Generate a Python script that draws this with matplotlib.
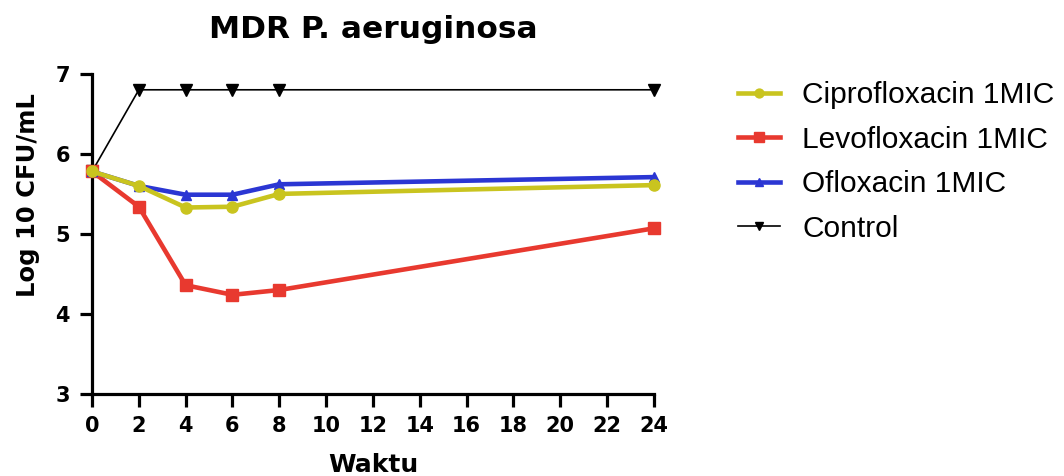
import matplotlib.pyplot as plt

# time points (hours)
waktu = [0, 2, 4, 6, 8, 24]

# log10 CFU/mL values
cipro = [5.78, 5.60, 5.33, 5.34, 5.50, 5.61]
levo = [5.78, 5.34, 4.36, 4.24, 4.30, 5.07]
oflox = [5.78, 5.60, 5.49, 5.49, 5.62, 5.71]
control = [5.78, 6.80, 6.80, 6.80, 6.80, 6.80]

labels = ['Ciprofloxacin 1MIC', 'Levofloxacin 1MIC', 'Ofloxacin 1MIC', 'Control']
xticks = list(range(0, 25, 2))
yticks = [3, 4, 5, 6, 7]

bold_font = ['DejaVu Sans']
plt.rcParams['font.family'] = ['Liberation Sans', 'DejaVu Sans']

fig = plt.figure(figsize=(10.64, 4.76), dpi=100)
ax = fig.add_axes([0.0865, 0.172, 0.528, 0.673])

ax.plot(waktu, cipro, '-o', color='#c9c41f', lw=3.3, ms=8, label=labels[0], clip_on=False, zorder=4)
ax.plot(waktu, levo, '-s', color='#e8392f', lw=3.3, ms=8.5, label=labels[1], clip_on=False, zorder=3)
ax.plot(waktu, oflox, '-^', color='#2b36d3', lw=3.3, ms=7.5, label=labels[2], clip_on=False, zorder=3)
ax.plot(waktu, control, '-v', color='black', lw=1.2, ms=8, label=labels[3], clip_on=False, zorder=2)

ax.set_xlim(0, 24)
ax.set_ylim(3, 7)
ax.set_xticks(xticks)
ax.set_yticks(yticks)
for s in ['top', 'right']:
    ax.spines[s].set_visible(False)
for s in ['left', 'bottom']:
    ax.spines[s].set_linewidth(2.3)
ax.tick_params(width=2.3, length=9, labelsize=15)
ax.tick_params(axis='x', pad=7)
ax.tick_params(axis='y', pad=7)
for lab in ax.get_xticklabels() + ax.get_yticklabels():
    lab.set_fontweight('bold')
    lab.set_family(bold_font)

ax.set_xlabel('Waktu', fontsize=18, fontweight='bold', family=bold_font, labelpad=12)
ax.set_ylabel('Log 10 CFU/mL', fontsize=17.5, fontweight='bold', family=bold_font, labelpad=11)
ax.yaxis.label.set_y(0.62)
ax.set_title('MDR P. aeruginosa', fontsize=22.5, fontweight='bold', family=bold_font, pad=26)

fig.legend(*ax.get_legend_handles_labels(), loc='upper left', bbox_to_anchor=(0.694, 0.829),
           frameon=False, fontsize=21.5, borderpad=0, borderaxespad=0,
           handlelength=1.4, handletextpad=0.74, labelspacing=0.55, markerscale=0.8)

fig.savefig('out.png', dpi=100)
